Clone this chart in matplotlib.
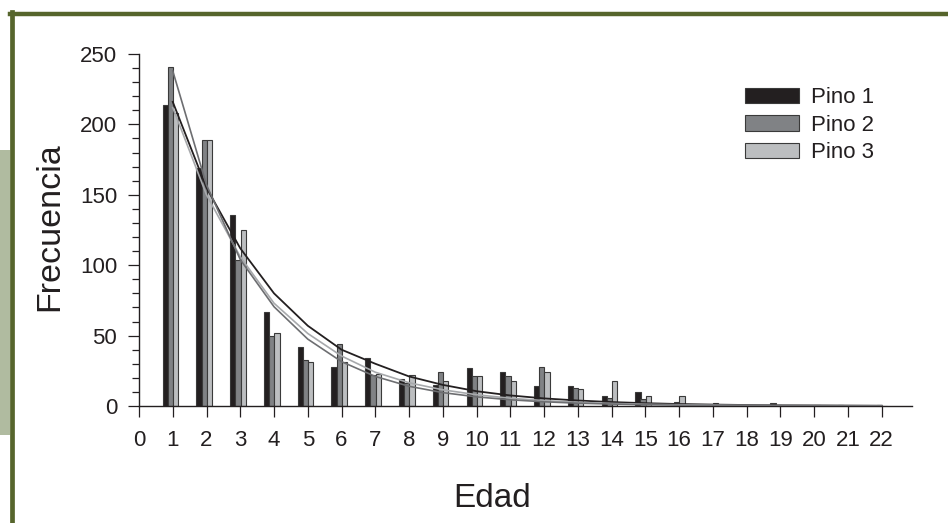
import numpy as np
import matplotlib
matplotlib.use("Agg")
import matplotlib.pyplot as plt
from matplotlib.patches import Rectangle, Patch
from matplotlib.lines import Line2D

plt.rcParams['font.family'] = ['Liberation Sans', 'DejaVu Sans']

# edad (years)
edad = list(range(1, 23))

# bar frequencies
pino1 = [214, 169, 136, 67, 42, 28, 34, 19, 15, 27, 24, 14, 14, 7, 10, 0, 0, 0, 2, 0, 1, 0]
pino2 = [241, 189, 104, 50, 33, 44, 22, 16, 24, 21, 21, 28, 13, 6, 5, 3, 0, 1, 1, 0, 0, 1]
pino3 = [208, 189, 125, 52, 31, 31, 23, 22, 18, 21, 18, 24, 12, 18, 7, 7, 2, 1, 0, 1, 0, 0]

# fitted curves
ajuste1 = [216, 155, 112, 80, 57, 40, 30, 21, 15, 10.5, 7.5, 5.4, 3.9, 2.8, 2.0, 1.4, 1.0, 0.7, 0.5, 0.4, 0.3, 0.2]
ajuste2 = [238, 157, 104, 70.5, 47.5, 31.5, 21, 14, 9.5, 6.5, 4.4, 3.0, 2.0, 1.4, 0.9, 0.6, 0.4, 0.3, 0.2, 0.15, 0.1, 0.07]
ajuste3 = [212, 150, 106, 73, 51.5, 35.5, 24, 16.5, 11.5, 8, 5.5, 3.8, 2.6, 1.8, 1.2, 0.9, 0.6, 0.4, 0.3, 0.2, 0.15, 0.1]

series = ['Pino 1', 'Pino 2', 'Pino 3']
bar_colors = ['#231f20', '#808285', '#bcbec0']
line_colors = ['#231f20', '#6d6e71', '#a7a9ac']
edge = '#3a3a3a'
dark = '#231f20'

W, H = 948, 523
fig = plt.figure(figsize=(W / 100, H / 100), dpi=100)

# decorative frame of the page
fig.patches.append(Rectangle((0, 1 - 435 / H), 10 / W, 285 / H, transform=fig.transFigure,
                             facecolor='#b0bba0', edgecolor='none'))
fig.lines.append(Line2D([10 / W, 1], [1 - 13.8 / H] * 2, transform=fig.transFigure,
                        color='#56652c', linewidth=3.2))
fig.lines.append(Line2D([11.7 / W] * 2, [0, 1 - 12 / H], transform=fig.transFigure,
                        color='#56652c', linewidth=3.4))

ax = fig.add_axes([139 / W, 1 - 406 / H, (912 - 139) / W, (406 - 54) / H])

x = np.array(edad)
w = 0.155
offsets = [-0.22, -0.07, 0.085]
for vals, off, c, name in zip([pino1, pino2, pino3], offsets, bar_colors, series):
    ax.bar(x + off, vals, width=w, color=c, edgecolor=edge, linewidth=0.8, label=name, zorder=2)

ax.plot(x, ajuste1, color=line_colors[0], linewidth=1.3, zorder=3)
ax.plot(x, ajuste3, color=line_colors[2], linewidth=1.2, zorder=3)
ax.plot(x, ajuste2, color=line_colors[1], linewidth=1.2, zorder=3)

ax.set_xlim(0, 22.9)
ax.set_ylim(0, 250)
ax.set_xticks(range(0, 23))
ax.set_yticks(range(0, 251, 50))
ax.set_yticks(range(0, 251, 10), minor=True)

for s in ['top', 'right']:
    ax.spines[s].set_visible(False)
for s in ['left', 'bottom']:
    ax.spines[s].set_color(dark)
    ax.spines[s].set_linewidth(1.0)

ax.tick_params(axis='both', which='major', direction='out', length=7.7, width=0.9,
               color=dark, labelsize=16, labelcolor=dark)
ax.tick_params(axis='x', pad=9.5)
ax.tick_params(axis='y', pad=8)
ax.tick_params(axis='y', which='minor', direction='out', length=4.8, width=0.9, color=dark)

fig.text(50 / W, 1 - 226.5 / H, 'Frecuencia', rotation=90, ha='center', va='center',
         fontsize=24.5, color=dark)
fig.text(492.5 / W, 1 - 507 / H, 'Edad', ha='center', va='baseline', fontsize=24, color=dark)

handles = [Patch(facecolor=c, edgecolor=edge, linewidth=0.8) for c in bar_colors]
fig.legend(handles, series, loc='upper left', bbox_to_anchor=(745 / W, 1 - 87 / H),
           frameon=False, fontsize=16, handlelength=2.45, handleheight=0.68,
           handletextpad=0.5, labelspacing=0.3, borderpad=0, borderaxespad=0,
           labelcolor=dark)

fig.savefig('out.png', dpi=100)
